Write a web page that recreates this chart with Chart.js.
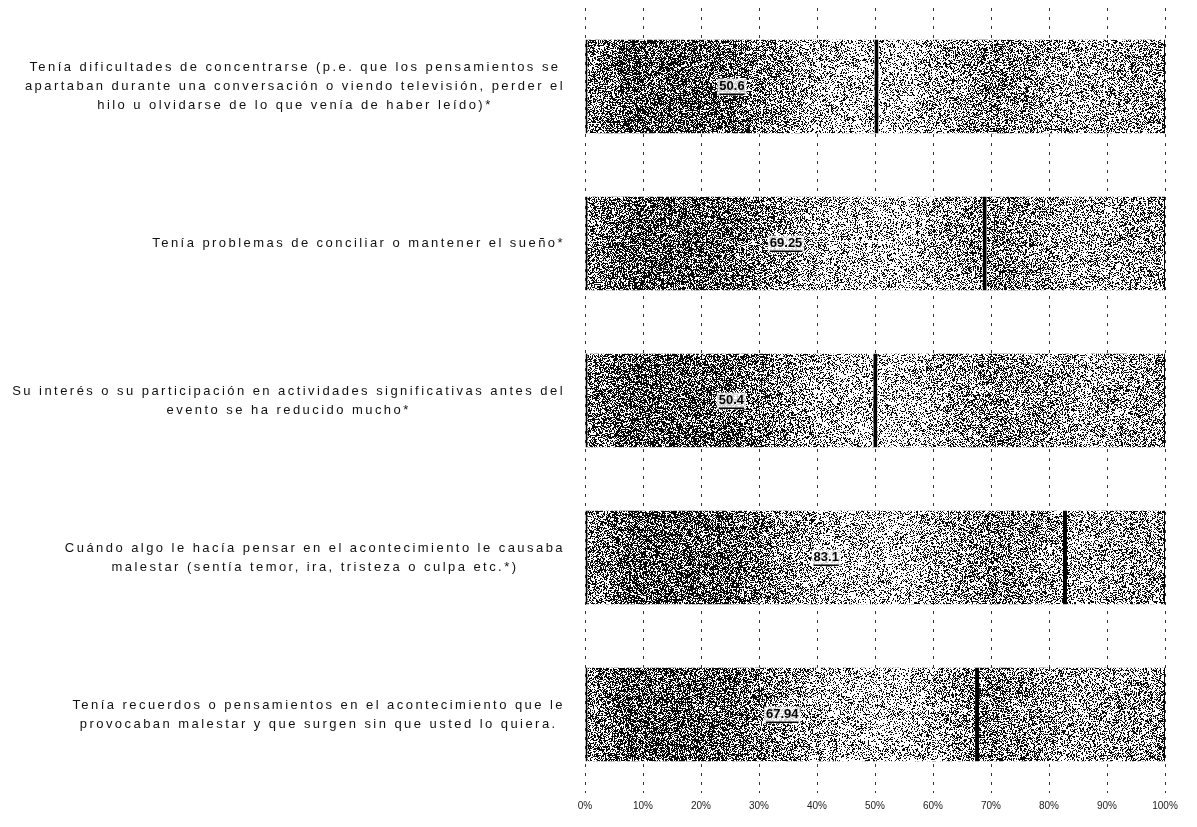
<!DOCTYPE html>
<html>
<head>
<meta charset="utf-8">
<script src="https://cdn.jsdelivr.net/npm/chart.js@4/dist/chart.umd.min.js"></script>
<style>
html,body{margin:0;padding:0;background:#fff}
#wrap{width:1197px;height:827px}
</style>
</head>
<body>
<div id="wrap"><canvas id="myChart"></canvas></div>
<script>
// categories (one array of lines per bar)
const categories = [
    ['Tenía dificultades de concentrarse (p.e. que los pensamientos se',
     'apartaban durante una conversación o viendo televisión, perder el',
     'hilo u olvidarse de lo que venía de haber leído)*'],
    ['Tenía problemas de conciliar o mantener el sueño*'],
    ['Su interés o su participación en actividades significativas antes del',
     'evento se ha reducido mucho*'],
    ['Cuándo algo le hacía pensar en el acontecimiento le causaba',
     'malestar (sentía temor, ira, tristeza o culpa etc.*)'],
    ['Tenía recuerdos o pensamientos en el acontecimiento que le',
     'provocaban malestar y que surgen sin que usted lo quiera.']
];
const values = [50.6, 69.25, 50.4, 83.1, 67.94];
const valueLabels = ['50.6', '69.25', '50.4', '83.1', '67.94'];
const restValues = [49.4, 30.75, 49.6, 16.9, 32.06];
const xTicks = ['0%','10%','20%','30%','40%','50%','60%','70%','80%','90%','100%'];

// scanned look: grey stipple, darker on the left part of the plot
let texture = null;
function shade(f){
    const stops = [[0,0.45],[0.08,0.66],[0.25,0.62],[0.4,0.32],[0.55,0.26],[0.7,0.5],[0.85,0.34],[1,0.42]];
    if(f<=0) return stops[0][1];
    for(let i=1;i<stops.length;i++){
        if(f<=stops[i][0]){
            let a=stops[i-1], b=stops[i];
            let t=(f-a[0])/(b[0]-a[0]);
            return a[1]+(b[1]-a[1])*t;
        }
    }
    return stops[stops.length-1][1];
}
function hash(x,y){
    let h=Math.imul(x,374761393)+Math.imul(y,668265263);
    h=Math.imul(h^(h>>>13),1274126177);
    h=h^(h>>>16);
    return (h>>>0)/4294967296;
}
function makeTexture(chart){
    const a=chart.chartArea, w=chart.width, h=chart.height;
    const c=document.createElement('canvas');
    c.width=w; c.height=h;
    const g=c.getContext('2d');
    const img=g.createImageData(w,h);
    for(let y=0;y<h;y++){
        for(let x=0;x<w;x++){
            let d=shade((x-a.left)/(a.right-a.left));
            let v=hash(x,y)<d?10:255;
            let i=(y*w+x)*4;
            img.data[i]=v; img.data[i+1]=v; img.data[i+2]=v; img.data[i+3]=255;
        }
    }
    g.putImageData(img,0,0);
    return chart.ctx.createPattern(c,'no-repeat');
}

const texturePlugin = {
    id:'texture',
    afterLayout(chart){
        texture = makeTexture(chart);
    }
};

const labelPlugin = {
    id:'labels',
    afterDatasetsDraw(chart){
        const ctx=chart.ctx;
        // value labels in the middle of the first segment
        const meta=chart.getDatasetMeta(0);
        ctx.save();
        ctx.font='bold 13px "Liberation Sans", Arial, sans-serif';
        ctx.textAlign='center';
        ctx.textBaseline='middle';
        meta.data.forEach((bar,i)=>{
            const p=bar.getProps(['x','y','base'],true);
            const cx=(p.x+p.base)/2;
            const tw=ctx.measureText(valueLabels[i]).width;
            ctx.fillStyle='rgba(255,255,255,0.8)';
            ctx.fillRect(cx-tw/2-2,p.y-8,tw+4,17);
            ctx.fillStyle='#000';
            ctx.fillText(valueLabels[i],cx,p.y);
            ctx.fillRect(cx-tw/2,p.y+7,tw,1.5);
        });
        ctx.restore();

        // category labels: centred lines, block right aligned
        const ys=chart.scales.y;
        ctx.save();
        ctx.font='13px "Liberation Sans", Arial, sans-serif';
        ctx.letterSpacing='2.45px';
        ctx.fillStyle='#111';
        ctx.textAlign='center';
        ctx.textBaseline='middle';
        const right=chart.chartArea.left-20, lh=19;
        categories.forEach((lines,i)=>{
            const cy=ys.getPixelForValue(i);
            let bw=0;
            lines.forEach(l=>{ bw=Math.max(bw,ctx.measureText(l).width); });
            const cx=right-bw/2;
            const y0=cy-(lines.length-1)*lh/2;
            lines.forEach((l,k)=>ctx.fillText(l,cx,y0+k*lh));
        });
        ctx.restore();
    }
};

var ctx = document.getElementById('myChart').getContext('2d');
var myChart = new Chart(ctx, {
    type: 'bar',
    data: {
        labels: categories,
        datasets: [{
            data: values,
            backgroundColor: () => texture || '#888',
            borderColor: '#000',
            borderWidth: {left:2, right:4, top:0, bottom:0},
            borderSkipped: false,
            barPercentage: 0.6,
            categoryPercentage: 1
        },{
            data: restValues,
            backgroundColor: () => texture || '#888',
            borderColor: '#000',
            borderWidth: {left:0, right:1, top:0, bottom:0},
            borderSkipped: false,
            barPercentage: 0.6,
            categoryPercentage: 1
        }]
    },
    options: {
        indexAxis: 'y',
        responsive: true,
        maintainAspectRatio: false,
        animation: false,
        layout: {padding: {top: 8, right: 32, bottom: 8, left: 0}},
        plugins: {legend: {display: false}, tooltip: {enabled: false}},
        scales: {
            x: {
                stacked: true,
                min: 0,
                max: 100,
                ticks: {
                    stepSize: 10,
                    padding: 7,
                    color: '#222',
                    font: {size: 10, family: '"Liberation Sans", Arial, sans-serif'},
                    callback: (v) => xTicks[v/10]
                },
                grid: {color: '#333', lineWidth: 1, drawTicks: false},
                border: {display: false, dash: [3, 6]}
            },
            y: {
                stacked: true,
                ticks: {display: false},
                grid: {display: false},
                border: {display: false},
                afterFit: (scale) => { scale.width = 585; }
            }
        }
    },
    plugins: [texturePlugin, labelPlugin]
});
</script>
</body>
</html>
